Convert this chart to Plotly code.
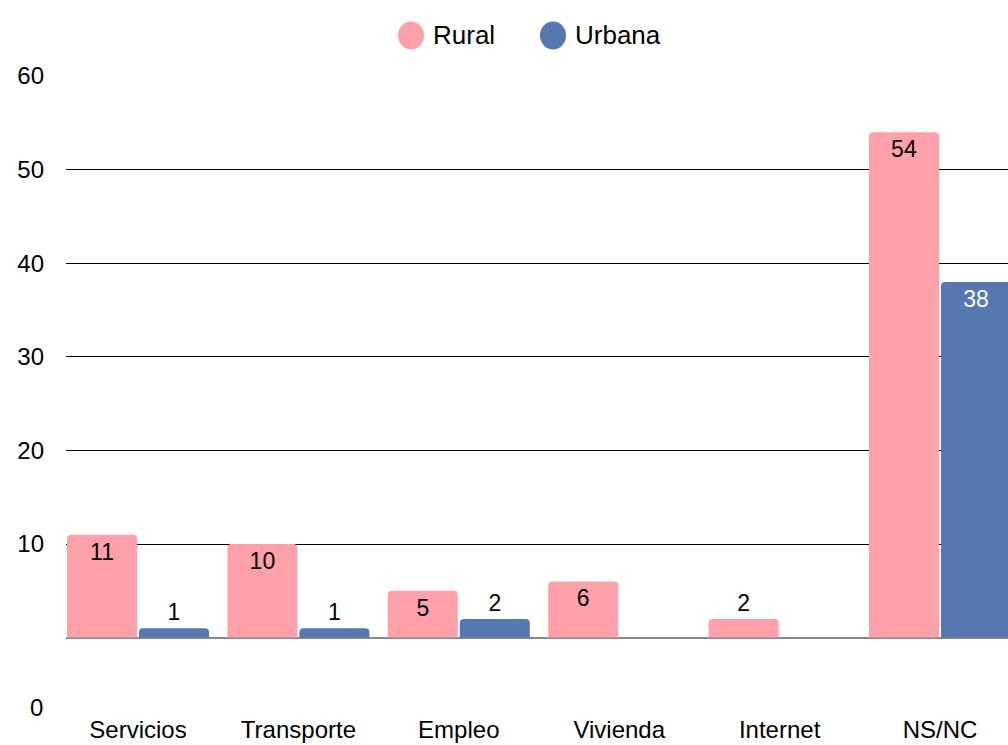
import plotly.graph_objects as go

# Survey responses by area, per category
categories = ["Servicios", "Transporte", "Empleo", "Vivienda", "Internet", "NS/NC"]
rural = [11, 10, 5, 6, 2, 54]
urbana = [1, 1, 2, None, None, 38]
y_ticks = [10, 20, 30, 40, 50, 60]

PINK = "#FFA1AB"
BLUE = "#5578B1"
FONT = "Arial, Liberation Sans, sans-serif"

W, H = 1008, 745
ML, MR, MT, MB = 66, 0, 76, 32
PW, PH = W - ML - MR, H - MT - MB


def px_x(px):
    return (px - ML) / PW


def px_y(py):
    return (H - MB - py) / PH


def label_positions(values):
    # short bars carry their value above, taller ones inside at the top
    return ["inside" if (v is not None and v >= 4) else "outside" for v in values]


fig = go.Figure()
fig.add_trace(go.Bar(
    x=categories, y=rural, name="Rural",
    marker=dict(color=PINK, line=dict(width=0)),
    texttemplate="%{y}", textposition=label_positions(rural),
    insidetextanchor="end", textangle=0,
    insidetextfont=dict(color="#000000", size=23, family=FONT),
    outsidetextfont=dict(color="#000000", size=23, family=FONT),
    cliponaxis=False, showlegend=False,
))
fig.add_trace(go.Bar(
    x=categories, y=urbana, name="Urbana",
    marker=dict(color=BLUE, line=dict(width=0)),
    texttemplate="%{y}", textposition=label_positions(urbana),
    insidetextanchor="end", textangle=0,
    insidetextfont=dict(color="#FFFFFF", size=23, family=FONT),
    outsidetextfont=dict(color="#000000", size=23, family=FONT),
    cliponaxis=False, showlegend=False,
))

# Legend drawn as circles with labels above the plot
shapes = []
annotations = []
for cx, color, label, tx in [(411, PINK, "Rural", 431), (553, BLUE, "Urbana", 573)]:
    shapes.append(dict(
        type="circle", xref="paper", yref="paper",
        x0=px_x(cx - 13), x1=px_x(cx + 13),
        y0=px_y(35.5 + 14), y1=px_y(35.5 - 14),
        fillcolor=color, line=dict(width=0),
    ))
    annotations.append(dict(
        xref="paper", yref="paper", x=px_x(tx), y=px_y(35.5),
        xanchor="left", yanchor="middle", showarrow=False,
        text=label, font=dict(size=26, color="#000000", family=FONT),
    ))

# Zero label sits below the baseline
annotations.append(dict(
    xref="paper", yref="paper", x=px_x(45), y=px_y(707.5),
    xanchor="right", yanchor="middle", showarrow=False,
    text="0", font=dict(size=24, color="#000000", family=FONT),
))

unit = 160.4
center0 = 138
fig.update_layout(
    width=W, height=H,
    margin=dict(l=ML, r=MR, t=MT, b=MB),
    paper_bgcolor="white", plot_bgcolor="white",
    barmode="group", bargap=0.102, bargroupgap=0.028,
    barcornerradius=4,
    font=dict(family=FONT, color="#000000"),
    shapes=shapes, annotations=annotations,
)
fig.update_xaxes(
    range=[(ML - center0) / unit, (W - center0) / unit],
    showgrid=False, showline=False, ticks="",
    tickfont=dict(size=24, color="#000000", family=FONT),
)
fig.update_yaxes(
    range=[-(H - MB - 637.6) / 9.36, 60],
    tickvals=y_ticks, ticktext=[str(v) for v in y_ticks],
    showgrid=True, gridcolor="#000000", gridwidth=1,
    zeroline=True, zerolinecolor="#888888", zerolinewidth=2,
    showline=False, ticks="", ticklabelstandoff=21,
    tickfont=dict(size=24, color="#000000", family=FONT),
)

fig.write_html("out.html")
